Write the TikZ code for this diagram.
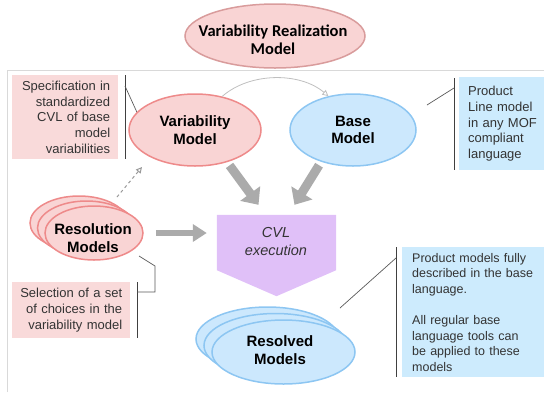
\documentclass[tikz,border=0pt]{standalone}
\usepackage{fontspec}
\setmainfont{Liberation Sans}
\newfontfamily\headfont{Carlito}
\usepackage{tikz}
\usetikzlibrary{arrows.meta,shapes.geometric,calc}

\definecolor{rosefill}{HTML}{F9D4D4}
\definecolor{roseline}{HTML}{EE8A8A}
\definecolor{dustyline}{HTML}{D99C9C}
\definecolor{notepink}{HTML}{F9DADA}
\definecolor{skyfill}{HTML}{CCE8FD}
\definecolor{skyline}{HTML}{8DC6F2}
\definecolor{noteblue}{HTML}{CDEBFD}
\definecolor{lilac}{HTML}{E0C0F8}
\definecolor{flowgray}{HTML}{ABABAB}
\definecolor{notetext}{HTML}{333333}

\tikzset{
  ell/.style={ellipse, line width=1.5pt, inner sep=0pt},
  pinkell/.style={ell, fill=rosefill, draw=roseline},
  blueell/.style={ell, fill=skyfill, draw=skyline},
  elltext/.style={font=\bfseries\fontsize{15}{17.5}\selectfont, align=center},
  notefont/.style={font=\fontsize{13}{15.6}\selectfont, text=notetext},
  pinknote/.style={notefont, fill=notepink, inner xsep=8pt, inner ysep=0pt, align=right},
  bluenote/.style={notefont, fill=noteblue, inner xsep=9pt, inner ysep=0pt, align=left},
  bar/.style={draw=black!75, line width=1pt},
  tick/.style={draw=black!65, line width=0.7pt},
  fatarrow/.style={draw=flowgray, line width=9pt, -{Triangle[length=14pt,width=24pt]}},
  thinarrow/.style={draw=black!25, line width=0.8pt, -{Triangle[open,length=6pt,width=6pt]}},
}

\begin{document}
\begin{tikzpicture}[x=1pt,y=-1pt]
  \clip (0,0) rectangle (544,392);
  % frame of the lower part
  \draw[black!15, line width=0.8pt] (7,392) -- (7,70) -- (544,70);

  % title
  \node[ell, fill=rosefill, draw=dustyline, minimum width=180, minimum height=64] (vrm) at (275,36) {};
  \node[font=\headfont\bfseries\fontsize{16.5}{18}\selectfont, align=center] (vrmtext) at (273,40)
    {Variability Realization\\Model};

  % side notes
  \node[pinknote, text width=90, minimum height=84, anchor=north west] (specnote) at (12,75)
    {Specification in\\standardized\\CVL of base\\model\\variabilities};
  \node[pinknote, text width=102, minimum height=56, anchor=north west] (selnote) at (12,282)
    {Selection of a set\\of choices in the\\variability model};
  \node[bluenote, text width=80, minimum height=93, anchor=north west] (plnote) at (459,77)
    {Product\\Line model\\in any MOF\\compliant\\language};
  \node[bluenote, inner xsep=10pt, font=\fontsize{12.5}{15.6}\selectfont, text width=130, minimum height=130, anchor=north west] (prodnote) at (402,247)
    {Product models fully\\described in the base\\language.\\[15.6pt]All regular base\\language tools can\\be applied to these\\models};

  % brackets from the notes
  \coordinate (specbar) at (125,86);
  \coordinate (specend) at (140,119);
  \draw[bar] (125,75) -- (125,159);
  \draw[tick] (specbar) -- (specend);
  \coordinate (plbar) at (454,88);
  \coordinate (plend) at (427,105);
  \draw[bar] (454,78) -- (454,170);
  \draw[tick] (plbar) -- (plend);
  \coordinate (prodbar) at (396,258);
  \coordinate (prodend) at (340,308);
  \draw[bar] (396,247) -- (396,377);
  \draw[tick] (prodbar) -- (prodend);
  \coordinate (selbar) at (137,292);
  \coordinate (selend) at (139,256);
  \draw[bar] (137,282) -- (137,338);
  \draw[tick] (selbar) -- (155,292) -- (155,266) -- (selend);

  % model ellipses
  \node[pinkell, minimum width=132, minimum height=72, elltext] (varmodel) at (195,130) {Variability\\Model};
  \node[blueell, minimum width=126, minimum height=72, elltext] (basemodel) at (353,130) {Base\\Model};

  % stack of resolution models
  \foreach \i/\cx/\cy in {1/79/223, 2/86.5/228, 3/94/233}
    \node[pinkell, minimum width=98, minimum height=54] (res\i) at (\cx,\cy) {};
  \node[elltext] (restext) at (93,238) {Resolution\\Models};

  % stack of resolved models
  \foreach \i/\cx/\cy in {1/267.5/339, 2/275.5/345.5, 3/283.5/352}
    \node[blueell, minimum width=143, minimum height=64] (rsv\i) at (\cx,\cy) {};
  \node[elltext] (rsvtext) at (280,350) {Resolved\\Models};

  % CVL execution
  \node[minimum width=119, minimum height=55, inner sep=0pt] (cvl) at (276.5,242.5) {};
  \fill[lilac] (cvl.north west) -- (cvl.north east) -- (cvl.south east)
    -- ($(cvl.south)+(0,26)$) -- (cvl.south west) -- cycle;
  \node[font=\itshape\fontsize{14.5}{18}\selectfont, text=notetext, align=center] (cvltext) at (276,242)
    {CVL\\execution};

  % flows into the execution
  \draw[fatarrow, shorten <=4pt] (varmodel.-45) -- ($(cvl.north)+(-18,-10)$);
  \draw[fatarrow, shorten <=4pt] (basemodel.-135) -- ($(cvl.north)+(18,-10)$);
  \draw[fatarrow, line width=6pt, -{Triangle[length=14pt,width=17pt]}, shorten <=12pt, shorten >=10pt]
    (res3.east) -- (res3.east -| cvl.west);

  % light links
  \draw[thinarrow] (varmodel.51) .. controls (250,72) and (300,72) .. (basemodel.126);
  \coordinate (dashfrom) at (117,197);
  \coordinate (dashto) at (142,167);
  \draw[thinarrow, dashed, draw=black!40, line width=1pt] (dashfrom) -- (dashto);
\end{tikzpicture}
\end{document}
